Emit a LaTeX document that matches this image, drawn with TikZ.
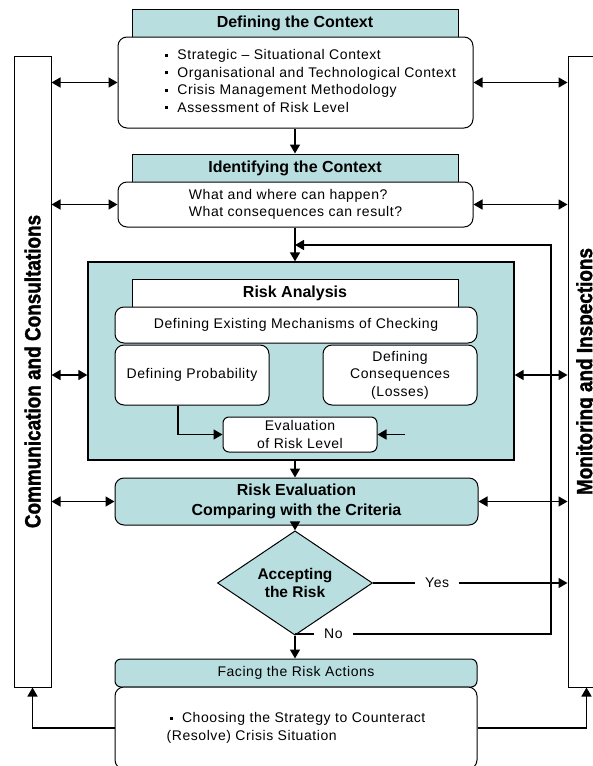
\documentclass[tikz,border=0pt]{standalone}
\usepackage{fontspec}
\setmainfont[LetterSpace=4]{Liberation Sans}
\newfontfamily\headfont{Liberation Sans}
\newfontfamily\sidefont[FakeStretch=0.86,FakeBold=1.5]{Liberation Sans}
\usepackage{xcolor}
\definecolor{riskteal}{RGB}{184,222,224}
\usetikzlibrary{shapes.geometric,arrows.meta,positioning,calc}

\newcommand{\sqitem}{\rule[2.8pt]{3.4pt}{3.4pt}\hspace{9pt}}

\begin{document}
\begin{tikzpicture}[x=1pt,y=-1pt,
    box/.style={draw, line width=1pt, inner sep=2pt, align=center, font=\fontsize{14}{17.5}\selectfont},
    headbox/.style={box, fill=riskteal, minimum width=326pt, minimum height=28pt, font=\headfont\bfseries\fontsize{16}{19}\selectfont},
    roundbox/.style={box, fill=white, rounded corners=9pt},
    sidebar/.style={draw, line width=1pt, fill=white, rotate=90, minimum width=631pt, minimum height=37pt, inner sep=0pt, font=\sidefont\bfseries\fontsize{22}{24}\selectfont},
    link/.style={line width=1.5pt, -{Triangle[length=9pt,width=10pt]}},
    both/.style={line width=1.5pt, {Triangle[length=9pt,width=10pt]}-{Triangle[length=9pt,width=10pt]}},
    lbl/.style={fill=white, inner xsep=10pt, inner ysep=1pt, font=\fontsize{14}{16}\selectfont}
]
    \useasboundingbox (0,0) rectangle (593,766);
    \fill [white] (0,0) rectangle (593,766);
    \clip (0,0) rectangle (593,766);

    % side bars
    \node [sidebar] at (32.5,371.5)  (leftbar)  {Communication and Consultations};
    \node [sidebar] at (586.5,371.5) (rightbar) {Monitoring and Inspections};

    % context
    \node [headbox] at (295,23.5) (ctxhead) {Defining the Context};
    \node [roundbox, minimum width=355pt, minimum height=91pt] at (295.5,82.5) (ctxbody)
        {\hspace*{30pt}\begin{tabular}{@{}l@{}}
            \sqitem Strategic -- Situational Context\\
            \sqitem Organisational and Technological Context\\
            \sqitem Crisis Management Methodology\\
            \sqitem Assessment of Risk Level
        \end{tabular}};

    \node [headbox] at (295,168) (idhead) {Identifying the Context};
    \node [roundbox, minimum width=355pt, minimum height=45pt, align=left] at (295.5,204.5) (idbody)
        {What and where can happen?\\What consequences can result?};

    % risk analysis
    \node [box, fill=riskteal, line width=1.3pt, minimum width=426pt, minimum height=198pt] at (301,361) (riskbox) {};
    \node [headbox, fill=white] at (295,293.5) (rahead) {Risk Analysis};
    \node [roundbox, minimum width=362pt, minimum height=36pt] at (296,325) (mechbox)
        {Defining Existing Mechanisms of Checking};
    \node [roundbox, minimum width=154pt, minimum height=60pt] at (192,375) (probbox) {Defining Probability};
    \node [roundbox, minimum width=154pt, minimum height=60pt] at (400,375) (consbox)
        {Defining\\Consequences\\(Losses)};
    \node [roundbox, rounded corners=6pt, minimum width=154pt, minimum height=35pt, inner ysep=1pt] at (300,434.5) (evalbox)
        {Evaluation\\of Risk Level};
    \coordinate (evalin) at (405,434.5);

    % evaluation and decision
    \node [roundbox, fill=riskteal, minimum width=363pt, minimum height=47pt,
           font=\headfont\bfseries\fontsize{16}{19.5}\selectfont] at (296.5,501.5) (revbox)
        {Risk Evaluation\\Comparing with the Criteria};
    \node [box, diamond, fill=riskteal, inner sep=0pt, minimum width=155pt, minimum height=80pt,
           font=\headfont\bfseries\fontsize{15.5}{18}\selectfont] at (295,583) (accept)
        {Accepting\\the Risk};

    \node [roundbox, fill=riskteal, rounded corners=6pt, minimum width=362pt, minimum height=28pt] at (296,673) (facehead)
        {Facing the Risk Actions};
    \node [roundbox, minimum width=362pt, minimum height=82pt, align=left] at (296,728) (facebody)
        {\hspace*{3pt}\sqitem Choosing the Strategy to Counteract\\(Resolve) Crisis Situation};

    \coordinate (nojoin)   at (295,634);
    \coordinate (nocorner) at (551,634);
    \coordinate (looptop)  at (551,245);

    % main flow
    \draw [link] (ctxbody.south -| ctxhead) -- (ctxhead.south |- idhead.north);
    \draw [link] (idbody.south -| idhead) -- (idhead.south |- riskbox.north);
    \draw [link] (riskbox.south -| accept) -- (accept.north |- revbox.north);
    \draw [link] (revbox.south -| accept) -- (accept.north);
    \draw [link] (accept.south) -- (accept.south |- facehead.north);
    \draw [link] ([xshift=-14pt]probbox.south) |- (evalbox.west);
    \draw [link] (evalin) -- (evalbox.east);

    % decision branches
    \draw [link] (accept.east) -- node [lbl, pos=0.33] {Yes} (rightbar.north |- accept.east);
    \draw [link] (nojoin) -- node [lbl, pos=0.15] {No} (nocorner) -- (looptop) -- (idhead.south |- looptop);

    % links to the side bars
    \draw [both] (leftbar.south |- ctxbody.west) -- (ctxbody.west);
    \draw [both] (ctxbody.east) -- (rightbar.north |- ctxbody.east);
    \draw [both] (leftbar.south |- idbody.west) -- (idbody.west);
    \draw [both] (idbody.east) -- (rightbar.north |- idbody.east);
    \draw [both] (leftbar.south |- probbox) -- (riskbox.west |- probbox);
    \draw [both] (riskbox.east |- probbox) -- (rightbar.north |- probbox);
    \draw [both] (leftbar.south |- revbox.west) -- (revbox.west);
    \draw [both] (revbox.east) -- (rightbar.north |- revbox.east);

    \draw [link] (facebody.west) -| (leftbar.west);
    \draw [link] (facebody.east) -| (rightbar.west);
\end{tikzpicture}
\end{document}
